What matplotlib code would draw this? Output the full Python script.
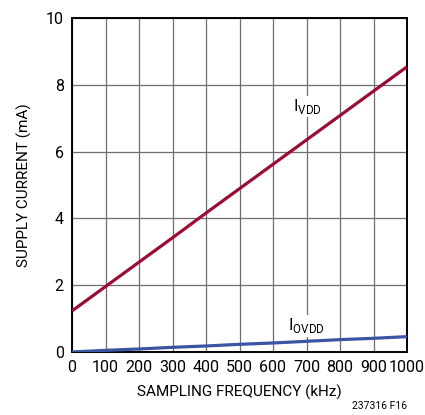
import matplotlib
matplotlib.use("Agg")
import matplotlib.pyplot as plt
import numpy as np

plt.rcParams['font.family'] = ['Roboto', 'Liberation Sans', 'DejaVu Sans']

freq_khz = [0, 100, 200, 300, 400, 500, 600, 700, 800, 900, 1000]
ivdd_ma = [1.23, 1.96, 2.69, 3.42, 4.16, 4.89, 5.62, 6.35, 7.08, 7.81, 8.54]
iovdd_ma = [0.0, 0.05, 0.09, 0.14, 0.18, 0.23, 0.27, 0.32, 0.37, 0.41, 0.46]

xticks = list(range(0, 1001, 100))
yticks = [0, 2, 4, 6, 8, 10]

fig = plt.figure(figsize=(4.25, 4.15), dpi=100)
ax = fig.add_axes([72/425, 1-352/415, 335/425, 334/415])

ax.plot(freq_khz, ivdd_ma, color='#9b0d33', lw=2.3, solid_capstyle='butt', zorder=3)
ax.plot(freq_khz, iovdd_ma, color='#3a55a4', lw=2.3, solid_capstyle='butt', zorder=3)

ax.set_xlim(0, 1000)
ax.set_ylim(0, 10)
ax.set_xticks(xticks)
ax.set_yticks(yticks)
ax.grid(True, color='#6e6e6e', lw=0.9)
ax.set_axisbelow(True)
for s in ax.spines.values():
    s.set_linewidth(1.4)
    s.set_color('black')
ax.tick_params(length=0, labelsize=11.5, pad=6)

ax.set_xlabel('SAMPLING FREQUENCY (kHz)', fontsize=11, labelpad=7)
ax.set_ylabel('SUPPLY CURRENT (mA)', fontsize=11, labelpad=10)

ax.text(660, 7.35, r'I$_{\mathregular{VDD}}$', fontsize=12, ha='left', va='center',
        bbox=dict(facecolor='white', edgecolor='none', pad=1), zorder=4)
ax.text(645, 0.78, r'I$_{\mathregular{OVDD}}$', fontsize=12, ha='left', va='center',
        bbox=dict(facecolor='white', edgecolor='none', pad=1), zorder=4)

fig.text(407/425, 1-411/415, '237316 F16', fontsize=7.5, ha='right', va='bottom')

fig.savefig('out.png', dpi=100)
